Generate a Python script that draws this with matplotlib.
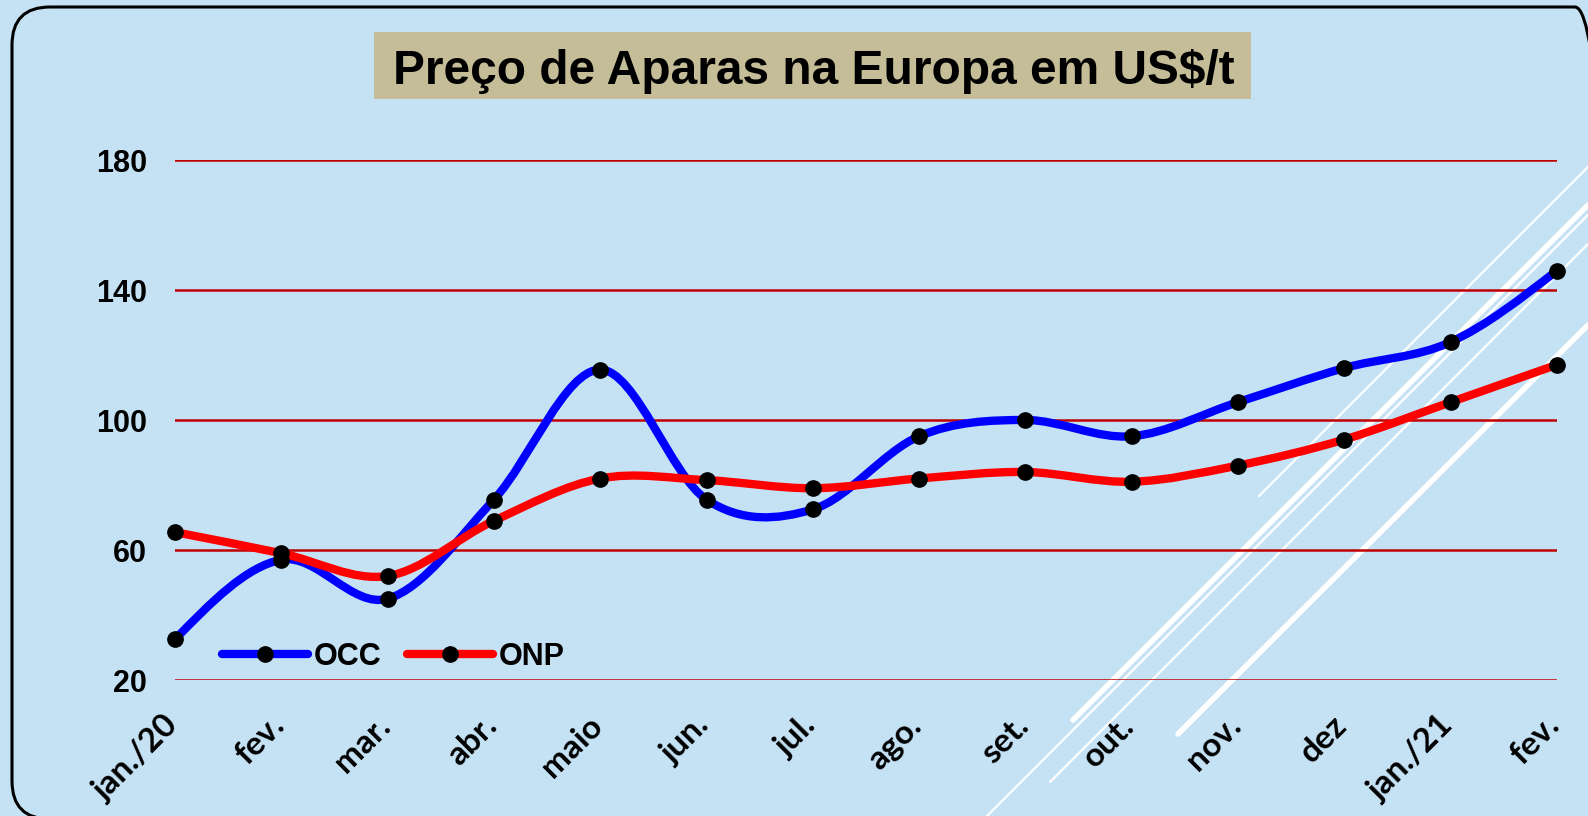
import numpy as np
import matplotlib
matplotlib.use("Agg")
import matplotlib.pyplot as plt
from matplotlib.path import Path
from matplotlib.patches import PathPatch, FancyBboxPatch, Rectangle
from matplotlib.lines import Line2D
import matplotlib.transforms as mtransforms

# ---------------- data ----------------
months = ["jan./20", "fev.", "mar.", "abr.", "maio", "jun.", "jul.", "ago.",
          "set.", "out.", "nov.", "dez", "jan./21", "fev."]
occ = [32.5, 57, 45, 75.5, 115.5, 75.5, 72.5, 95, 100, 95, 105.5, 116, 124, 146]
onp = [65.5, 59, 52, 69, 82, 81.5, 79, 82, 84, 81, 86, 94, 105.5, 117]
yticks = [20, 60, 100, 140, 180]
title = "Preço de Aparas na Europa em US$/t"
series_names = ["OCC", "ONP"]
series_colors = ["#0000FF", "#FF0000"]

# ---------------- layout helpers ----------------
W, H = 1588, 816
BG = "#C5E2F5"
def fx(x): return x / W
def fy(y): return 1 - y / H

fig = plt.figure(figsize=(W / 100, H / 100), dpi=100)
fig.patch.set_facecolor(BG)

# decorative white diagonal lines (slide background)
deco = [  # (x0, y0, x1, y1, width_px)
    (1073, 720, 1588, 205, 5.5),
    (987, 816, 1588, 215, 2.2),
    (1050, 782, 1588, 244, 2.2),
    (1178, 734, 1588, 325, 5.5),
    (1259, 496, 1588, 167, 2.2),
]
for x0, y0, x1, y1, w in deco:
    fig.add_artist(Line2D([fx(x0), fx(x1)], [fy(y0), fy(y1)], color="white",
                          lw=w * 0.72, solid_capstyle="round",
                          transform=fig.transFigure, zorder=0.5))

# rounded border (pixel coordinates, origin bottom-left)
bx0, by_top, bx1, by_bot = 12, 7, 1613, 819
fig.add_artist(FancyBboxPatch((bx0, H - by_bot), bx1 - bx0, by_bot - by_top,
                              boxstyle="round,pad=0,rounding_size=38",
                              transform=mtransforms.IdentityTransform(),
                              facecolor="none", edgecolor="black", lw=2.2,
                              zorder=3))

# title box
fig.add_artist(Rectangle((fx(374), fy(99)), fx(1251) - fx(374), fy(32) - fy(99),
                         transform=fig.transFigure, facecolor="#C4BD97",
                         edgecolor="none", zorder=2))
fig.text(fx(813.5), fy(84.5), title, ha="center", va="baseline",
         fontsize=34.5, fontweight="bold", family="Liberation Sans", zorder=4)

# axes
ax = fig.add_axes([fx(175), fy(680), fx(1557) - fx(175), fy(160) - fy(680)])
ax.set_zorder(1)
ax.patch.set_visible(False)
ax.set_xlim(0, len(months) - 1)
ax.set_ylim(20, 180)
ax.set_yticks(yticks)
ax.set_yticklabels([str(v) for v in yticks], fontsize=22, fontweight="bold",
                   family="Liberation Sans")
ax.set_xticks(np.arange(len(months)))
ax.set_xticklabels(months, rotation=45, ha="right", va="top", fontsize=24,
                   fontweight="bold", family="Lato")
ax.tick_params(axis="y", length=0, pad=20)
ax.tick_params(axis="x", length=0, pad=22)
off = mtransforms.ScaledTranslation(0.08, 0, fig.dpi_scale_trans)
for lab in ax.get_xticklabels():
    lab.set_transform(lab.get_transform() + off)
for s in ax.spines.values():
    s.set_visible(False)
ax.yaxis.grid(True, color="#C00000", lw=1.8)
ax.set_axisbelow(True)


def smooth_path(ys):
    xs = np.arange(len(ys), dtype=float)
    pts = np.column_stack([xs, np.asarray(ys, dtype=float)])
    n = len(pts)
    m = np.zeros_like(pts)
    for i in range(1, n - 1):
        m[i] = (pts[i + 1] - pts[i - 1]) / 2
    m[0] = 1.5 * (pts[1] - pts[0]) - 0.5 * m[1]
    m[-1] = 1.5 * (pts[-1] - pts[-2]) - 0.5 * m[-2]
    verts = [pts[0]]
    codes = [Path.MOVETO]
    for i in range(n - 1):
        verts += [pts[i] + m[i] / 3, pts[i + 1] - m[i + 1] / 3, pts[i + 1]]
        codes += [Path.CURVE4] * 3
    return Path(verts, codes)


for vals, col, z in [(occ, series_colors[0], 3), (onp, series_colors[1], 4)]:
    ax.add_patch(PathPatch(smooth_path(vals), facecolor="none", edgecolor=col,
                           lw=6, capstyle="round", joinstyle="round", zorder=z))
for vals in (occ, onp):
    ax.plot(np.arange(len(vals)), vals, linestyle="none", marker="o",
            color="black", markersize=11, zorder=5, clip_on=False)

handles = [Line2D([], [], color=c, lw=6, marker="o", mfc="black", mec="black",
                  ms=11, solid_capstyle="round") for c in series_colors]
fig.legend(handles, series_names, loc="center left",
           bbox_to_anchor=(fx(222), fy(657)), bbox_transform=fig.transFigure,
           ncol=2, frameon=False, borderpad=0, borderaxespad=0,
           handlelength=2.8, handletextpad=0.2, columnspacing=0.85,
           prop=dict(family="Liberation Sans", weight="bold", size=22))

fig.savefig("out.png", dpi=100, facecolor=BG)
